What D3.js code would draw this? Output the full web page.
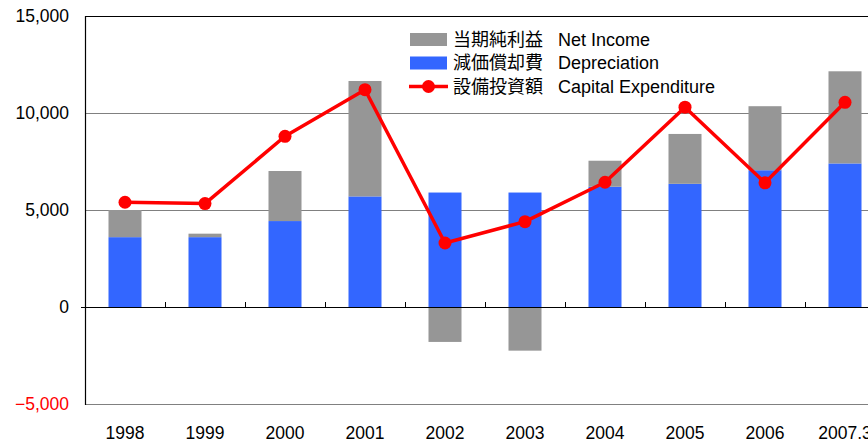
<!DOCTYPE html>
<html>
<head>
<meta charset="utf-8">
<script src="https://cdn.jsdelivr.net/npm/d3@7"></script>
<style>
  body { margin: 0; background: #fff; }
  svg { display: block; }
  text { font-family: "Liberation Sans", Arial, sans-serif; }
  .cjk { font-family: "Noto Sans CJK JP", "Noto Sans CJK SC", sans-serif; }
</style>
</head>
<body>
<div id="chart"></div>
<script>
// data (millions)
const years = ['1998', '1999', '2000', '2001', '2002', '2003', '2004', '2005', '2006', '2007.3'];
const depreciation = [3600, 3600, 4430, 5700, 5900, 5900, 6200, 6350, 7050, 7400];
const netIncome = [1400, 180, 2580, 5950, -1800, -2250, 1340, 2570, 3300, 4750];
const capex = [5400, 5330, 8800, 11200, 3300, 4400, 6430, 10300, 6400, 10550];
const yTicks = [-5000, 0, 5000, 10000, 15000];

const width = 868;
const height = 443;
const plot = { left: 85, right: 885, top: 16, bottom: 404 };

const svg = d3.select('#chart')
    .append('svg')
    .attr('width', width)
    .attr('height', height);

const x = d3.scaleBand()
    .domain(years)
    .range([plot.left, plot.right]);

const y = d3.scaleLinear()
    .domain([-5000, 15000])
    .range([plot.bottom, plot.top]);

const barW = 33;

// gridlines
svg.append('g')
    .selectAll('line')
    .data(yTicks.filter(d => d !== 0))
    .enter()
    .append('line')
    .attr('x1', plot.left)
    .attr('x2', width)
    .attr('y1', d => Math.round(y(d)) + 0.5)
    .attr('y2', d => Math.round(y(d)) + 0.5)
    .attr('stroke', d => d === 15000 ? '#000' : '#808080')
    .attr('stroke-width', 1.2);

// y tick labels
svg.append('g')
    .selectAll('text')
    .data(yTicks)
    .enter()
    .append('text')
    .attr('x', 69)
    .attr('y', d => y(d))
    .attr('dy', '0.36em')
    .attr('text-anchor', 'end')
    .style('font-size', '17.5px')
    .attr('fill', d => d < 0 ? '#ff0000' : '#000')
    .text(d => d3.format(',')(d));

// depreciation bars (blue, from zero up)
svg.append('g')
    .selectAll('rect')
    .data(years)
    .enter()
    .append('rect')
    .attr('x', d => x(d) + x.bandwidth() / 2 - barW / 2)
    .attr('width', barW)
    .attr('y', (d, i) => y(depreciation[i]))
    .attr('height', (d, i) => y(0) - y(depreciation[i]))
    .attr('fill', '#3366ff');

// net income bars (gray, stacked on top or below zero when negative)
svg.append('g')
    .selectAll('rect')
    .data(years)
    .enter()
    .append('rect')
    .attr('x', d => x(d) + x.bandwidth() / 2 - barW / 2)
    .attr('width', barW)
    .attr('y', (d, i) => netIncome[i] >= 0 ? y(depreciation[i] + netIncome[i]) : y(0))
    .attr('height', (d, i) => netIncome[i] >= 0
        ? y(depreciation[i]) - y(depreciation[i] + netIncome[i])
        : y(netIncome[i]) - y(0))
    .attr('fill', '#969696');

// left axis and zero line
svg.append('line')
    .attr('x1', plot.left + 0.5).attr('x2', plot.left + 0.5)
    .attr('y1', plot.top).attr('y2', plot.bottom + 1)
    .attr('stroke', '#000').attr('stroke-width', 1.2);

svg.append('line')
    .attr('x1', plot.left - 4).attr('x2', width)
    .attr('y1', Math.round(y(0)) + 0.5).attr('y2', Math.round(y(0)) + 0.5)
    .attr('stroke', '#000').attr('stroke-width', 1.2);

// category ticks on the zero line
svg.append('g')
    .selectAll('line')
    .data(years.slice(1))
    .enter()
    .append('line')
    .attr('x1', d => Math.round(x(d)) + 0.5)
    .attr('x2', d => Math.round(x(d)) + 0.5)
    .attr('y1', y(0) - 5)
    .attr('y2', y(0))
    .attr('stroke', '#000');

// x labels
svg.append('g')
    .selectAll('text')
    .data(years)
    .enter()
    .append('text')
    .attr('x', d => x(d) + x.bandwidth() / 2)
    .attr('y', 439)
    .attr('text-anchor', 'middle')
    .style('font-size', '17.5px')
    .text(d => d);

// capital expenditure line
const line = d3.line()
    .x((d, i) => x(years[i]) + x.bandwidth() / 2)
    .y(d => y(d));

svg.append('path')
    .datum(capex)
    .attr('d', line)
    .attr('fill', 'none')
    .attr('stroke', '#ff0000')
    .attr('stroke-width', 3.5)
    .attr('stroke-linejoin', 'round');

svg.append('g')
    .selectAll('circle')
    .data(capex)
    .enter()
    .append('circle')
    .attr('cx', (d, i) => x(years[i]) + x.bandwidth() / 2)
    .attr('cy', d => y(d))
    .attr('r', 6.5)
    .attr('fill', '#ff0000');

// legend
const legendItems = [
    { jp: '当期純利益', en: 'Net Income', type: 'rect', color: '#969696' },
    { jp: '減価償却費', en: 'Depreciation', type: 'rect', color: '#3366ff' },
    { jp: '設備投資額', en: 'Capital Expenditure', type: 'line', color: '#ff0000' }
];

const legend = svg.append('g');
legendItems.forEach((item, i) => {
    const cy = 39.5 + i * 23.5;
    if (item.type === 'rect') {
        legend.append('rect')
            .attr('x', 410).attr('y', cy - 6.5)
            .attr('width', 37).attr('height', 13)
            .attr('fill', item.color);
    } else {
        legend.append('line')
            .attr('x1', 409).attr('x2', 448)
            .attr('y1', cy).attr('y2', cy)
            .attr('stroke', item.color).attr('stroke-width', 3.5);
        legend.append('circle')
            .attr('cx', 428.5).attr('cy', cy).attr('r', 6.5)
            .attr('fill', item.color);
    }
    legend.append('text')
        .attr('class', 'cjk')
        .attr('x', 453).attr('y', cy)
        .attr('dy', '0.36em')
        .style('font-size', '18px')
        .text(item.jp);
    legend.append('text')
        .attr('x', 558).attr('y', cy)
        .attr('dy', '0.36em')
        .style('font-size', '18px')
        .text(item.en);
});
</script>
</body>
</html>
